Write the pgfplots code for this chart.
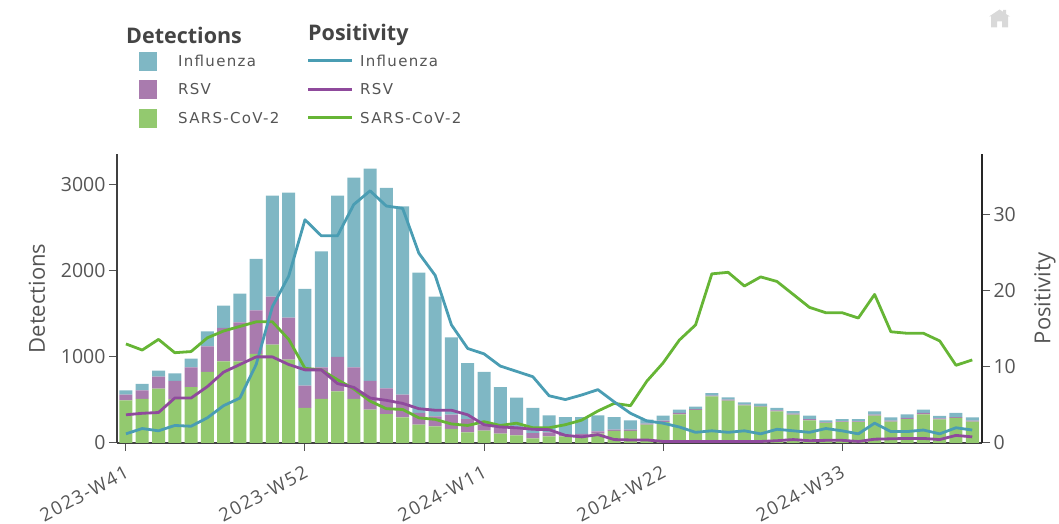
\documentclass[border=0pt]{standalone}
\usepackage{fontspec}
\usepackage{pgfplots}
\usepackage{pgfplotstable}
\pgfplotsset{compat=1.18}
\setmainfont{Open Sans}
\newfontfamily\legfont[LetterSpace=8.7]{DejaVu Sans}
\newfontfamily\xlabfont[LetterSpace=8]{Open Sans}
\definecolor{barflu}{HTML}{7FB7C4}
\definecolor{barrsv}{HTML}{A97BAE}
\definecolor{barcov}{HTML}{93C96F}
\definecolor{lineflu}{HTML}{4A9DB3}
\definecolor{linersv}{HTML}{8F4A9C}
\definecolor{linecov}{HTML}{66B535}
\definecolor{txt}{HTML}{555555}
\pgfplotstableread{
i cov rsv flu pflu prsv pcov
0 496 66 50 1.2 3.7 13.0
1 512 100 74 1.9 3.9 12.2
2 632 139 70 1.6 4.0 13.6
3 510 211 89 2.3 5.9 11.85
4 651 229 101 2.2 5.9 12.0
5 826 298 174 3.3 7.4 13.8
6 950 387 260 4.9 9.3 14.7
7 950 453 333 5.9 10.3 15.3
8 1035 508 597 10.3 11.3 15.9
9 1143 559 1174 17.9 11.3 15.9
10 969 488 1454 21.9 10.3 13.6
11 407 260 1124 29.3 9.6 9.8
12 512 368 1349 27.2 9.6 9.6
13 601 399 1876 27.2 7.8 8.3
14 512 368 2205 31.3 7.3 7.1
15 388 333 2469 33.1 5.9 5.5
16 337 299 2329 31.1 5.6 4.5
17 298 264 2190 30.8 5.2 4.4
18 213 137 1630 24.9 4.5 3.3
19 194 116 1392 22.0 4.3 3.1
20 163 167 899 15.5 4.3 2.5
21 124 155 651 12.4 3.7 2.3
22 143 70 613 11.7 2.4 2.8
23 108 66 477 10.1 2.1 2.3
24 89 74 364 9.4 2.0 2.6
25 54 62 291 8.7 1.8 2.0
26 78 46 198 6.2 1.75 2.0
27 78 19 205 5.7 1.0 2.4
28 70 35 197 6.3 0.8 3.0
29 109 27 186 7.0 1.1 4.2
30 140 15 147 5.4 0.45 5.2
31 140 15 109 3.9 0.4 4.9
32 213 12 46 2.9 0.4 8.1
33 244 16 58 2.6 0.2 10.5
34 333 16 39 2.1 0.2 13.5
35 384 11 27 1.4 0.2 15.5
36 543 7 31 1.6 0.2 22.2
37 492 12 27 1.4 0.2 22.4
38 438 8 27 1.6 0.2 20.6
39 422 8 27 1.2 0.2 21.8
40 368 12 27 1.8 0.3 21.2
41 331 10 29 1.6 0.45 19.5
42 264 15 39 1.4 0.3 17.8
43 233 7 24 1.9 0.35 17.1
44 244 8 27 1.6 0.35 17.1
45 244 8 27 1.2 0.2 16.4
46 318 11 39 2.6 0.5 19.5
47 248 12 38 1.5 0.55 14.6
48 279 12 42 1.5 0.6 14.4
49 333 16 39 1.7 0.6 14.4
50 275 12 27 1.2 0.45 13.4
51 291 11 47 2.0 1.0 10.2
52 248 12 38 1.7 0.8 10.9
}\data
\pgfplotsset{
  base/.style={
    scale only axis, width=865pt, height=289pt,
    at={(117pt,81pt)}, anchor=south west,
    xmin=-0.55, xmax=52.6, ymin=0,
    tick align=outside, major tick length=8pt,
    tick style={color=txt, line width=1pt},
    /pgf/number format/assume math mode=true,
    /pgf/number format/1000 sep={},
    tick label style={font=\fontsize{19.5}{23}\selectfont, text=txt},
    label style={font=\fontsize{22}{26}\selectfont, text=txt},
  }
}
\begin{document}
\begin{tikzpicture}[x=1pt,y=1pt]
\path[use as bounding box] (0,0) rectangle (1059,524);
\begin{axis}[base,
  ymax=3360,
  axis x line*=bottom, axis y line*=left,
  axis line style={color=black!75, line width=1.3pt, -},
  ybar stacked, bar width=13pt,
  xtick={0,11,22,33,44},
  xticklabels={2023-W41,2023-W52,2024-W11,2024-W22,2024-W33},
  xticklabel style={rotate=28, anchor=east, font=\xlabfont\fontsize{18.5}{22}\selectfont, xshift=-5pt, yshift=-18pt},
  ytick={0,1000,2000,3000},
  ylabel={Detections},
  y label style={at={(axis description cs:-0.0925,0.5)}, anchor=center},
]
\addplot[fill=barcov, draw=none] table[x=i,y=cov]{\data};
\addplot[fill=barrsv, draw=none] table[x=i,y=rsv]{\data};
\addplot[fill=barflu, draw=none] table[x=i,y=flu]{\data};
\end{axis}
\begin{axis}[base,
  ymax=37.93,
  axis x line=none, axis y line*=right,
  axis line style={color=black!85, line width=1.3pt, -},
  ytick={0,10,20,30},
  ylabel={Positivity},
  y label style={at={(axis description cs:1.0728,0.5)}, anchor=center},
]
\addplot[color=linecov, line width=2.8pt, line join=round] table[x=i,y=pcov]{\data};
\addplot[color=lineflu, line width=2.8pt, line join=round] table[x=i,y=pflu]{\data};
\addplot[color=linersv, line width=2.8pt, line join=round] table[x=i,y=prsv]{\data};
\end{axis}
% legend
\node[anchor=west, text=txt!80!black, inner sep=0pt] at (126,489) {\fontsize{21.5}{25}\selectfont\bfseries Detections};
\node[anchor=west, text=txt!80!black, inner sep=0pt] at (308,489) {\fontsize{21.5}{25}\selectfont\bfseries Positivity};
\fill[barflu] (139,453) rectangle (157,472);
\fill[barrsv] (139,425) rectangle (157,444);
\fill[barcov] (139,396) rectangle (157,415);
\draw[lineflu, line width=2.8pt] (308,463.5) -- (352,463.5);
\draw[linersv, line width=2.8pt] (308,434.5) -- (352,434.5);
\draw[linecov, line width=2.8pt] (308,406.5) -- (352,406.5);
\foreach \yy/\tt in {463/Influenza,434.5/RSV,406/SARS-CoV-2}{
  \node[anchor=west, text=txt, inner sep=0pt] at (178,\yy) {\legfont\fontsize{15}{18}\selectfont\tt};
  \node[anchor=west, text=txt, inner sep=0pt] at (360,\yy) {\legfont\fontsize{15}{18}\selectfont\tt};
}
% home icon
\begin{scope}[yshift=-2.5pt]
\fill[black!15] (989,510) -- (999.5,517) -- (1003,514.7) -- (1003,516.5) -- (1006,516.5) -- (1006,512.5) -- (1010,510) -- (1008,510) -- (1008,499) -- (1002,499) -- (1002,505) -- (997,505) -- (997,499) -- (991,499) -- (991,510) -- cycle;
\end{scope}
\end{tikzpicture}
\end{document}
